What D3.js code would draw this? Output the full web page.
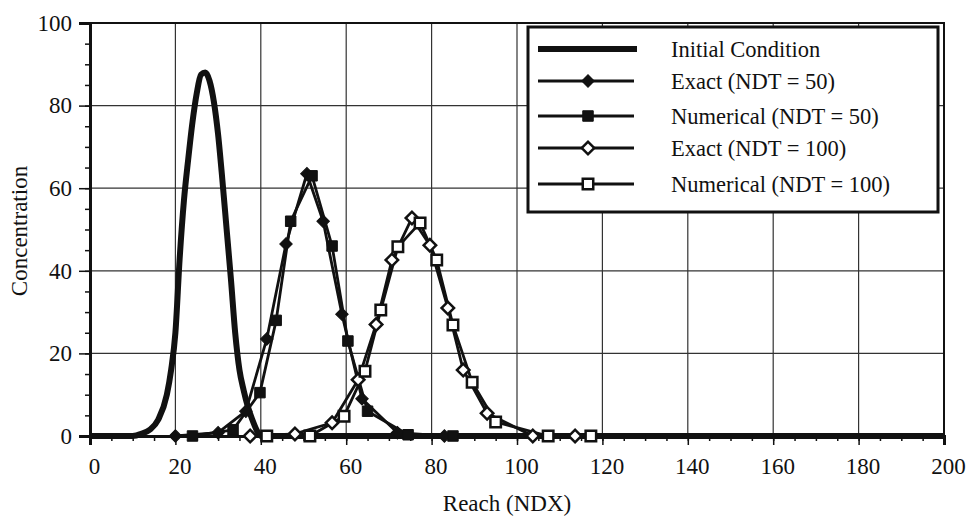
<!DOCTYPE html>
<html>
<head>
<meta charset="utf-8">
<script src="https://cdn.jsdelivr.net/npm/d3@7"></script>
<style>
  body { margin: 0; background: #fff; }
  svg text { font-family: "Liberation Serif", "Times New Roman", serif; fill: #111; }
</style>
</head>
<body>
<div id="chart"></div>
<script>
// values
var initX = [0, 10, 12, 14, 16, 18, 19, 20, 21, 22, 23, 24, 25, 26, 27, 28, 29, 30, 31, 32, 33, 34, 35, 36, 37, 38, 39, 40, 200];
var initY = [0, 0, 0.5, 1.5, 4, 10, 16, 25, 43, 57, 67, 76, 83, 87.5, 88, 86, 81, 73, 62, 50, 38, 25, 16, 11, 7, 4, 1.5, 0, 0];

var exact50X = [20, 30, 36.5, 41.4, 45.9, 50.8, 54.6, 59, 63.7, 72, 83];
var exact50Y = [0, 0.8, 6, 23.5, 46.5, 63.5, 52, 29.5, 9, 0.8, 0];

var num50X = [24, 33.5, 39.8, 43.6, 47, 52, 56.7, 60.4, 65, 74.5, 85];
var num50Y = [0, 1.5, 10.5, 28, 52, 63, 46, 23, 6, 0.3, 0];

var exact100X = [37.5, 48, 56.7, 62.8, 67, 70.7, 75.4, 79.6, 83.8, 87.4, 93, 103.7, 113.6];
var exact100Y = [0, 0.5, 3.2, 13.6, 27, 42.6, 52.8, 46.2, 31, 16, 5.5, 0, 0];

var num100X = [41.4, 51.5, 59.5, 64.4, 68.1, 72.1, 77.3, 81.2, 85, 89.5, 95, 107.3, 117.3];
var num100Y = [0, 0, 4.8, 15.7, 30.5, 45.8, 51.6, 42.6, 26.9, 13, 3.4, 0, 0];

var xTicks = [0, 20, 40, 60, 80, 100, 120, 140, 160, 180, 200];
var yTicks = [0, 20, 40, 60, 80, 100];

var legendNames = ["Initial Condition", "Exact (NDT = 50)", "Numerical (NDT = 50)", "Exact (NDT = 100)", "Numerical (NDT = 100)"];

var width = 973;
var height = 520;
var margin = {left: 90, top: 23, right: 29, bottom: 84};
var w = width - margin.left - margin.right;
var h = height - margin.top - margin.bottom;

var svg = d3.select('#chart').append('svg')
    .attr('width', width)
    .attr('height', height);

var g = svg.append('g').attr('transform', 'translate(' + margin.left + ',' + margin.top + ')');

var x = d3.scaleLinear().domain([0, 200]).range([0, w]);
var y = d3.scaleLinear().domain([0, 100]).range([h, 0]);

// grid
g.append('g')
    .selectAll('line').data(xTicks.slice(1, -1))
    .enter().append('line')
    .attr('x1', function(d){ return x(d); })
    .attr('x2', function(d){ return x(d); })
    .attr('y1', 0).attr('y2', h)
    .attr('stroke', '#333').attr('stroke-width', 1.2);
g.append('g')
    .selectAll('line').data(yTicks.slice(1, -1))
    .enter().append('line')
    .attr('y1', function(d){ return y(d); })
    .attr('y2', function(d){ return y(d); })
    .attr('x1', 0).attr('x2', w)
    .attr('stroke', '#333').attr('stroke-width', 1.2);

// frame
g.append('rect')
    .attr('width', w).attr('height', h)
    .attr('fill', 'none').attr('stroke', '#111').attr('stroke-width', 2);

// axes
var xMinor = g.append('g').attr('transform', 'translate(0,' + h + ')')
    .call(d3.axisBottom(x).tickValues(d3.range(0, 201, 5)).tickSize(5).tickFormat(''));
var xAxis = g.append('g').attr('transform', 'translate(0,' + h + ')')
    .call(d3.axisBottom(x).tickValues(xTicks).tickSize(9).tickPadding(13));
var yMinor = g.append('g')
    .call(d3.axisLeft(y).tickValues(d3.range(0, 101, 5)).tickSize(5).tickFormat(''));
var yAxis = g.append('g')
    .call(d3.axisLeft(y).tickValues(yTicks).tickSize(11).tickPadding(7));

[xMinor, xAxis, yMinor, yAxis].forEach(function(a){
  a.select('.domain').attr('stroke', '#111').attr('stroke-width', 3);
  a.selectAll('.tick line').attr('stroke', '#111').attr('stroke-width', 1.5);
});
xAxis.selectAll('text').attr('font-size', 23).attr('dx', 4);
yAxis.selectAll('text').attr('font-size', 23);

// axis titles
svg.append('text')
    .attr('x', margin.left + w / 2 - 10).attr('y', 511)
    .attr('text-anchor', 'middle').attr('font-size', 23)
    .text('Reach (NDX)');
svg.append('text')
    .attr('transform', 'translate(27,' + (margin.top + 208) + ') rotate(-90)')
    .attr('text-anchor', 'middle').attr('font-size', 23)
    .text('Concentration');

var smooth = d3.line()
    .x(function(d){ return x(d[0]); })
    .y(function(d){ return y(d[1]); })
    .curve(d3.curveMonotoneX);
var straight = d3.line()
    .x(function(d){ return x(d[0]); })
    .y(function(d){ return y(d[1]); });

var pair = function(xs, ys){ return xs.map(function(v, i){ return [v, ys[i]]; }); };

var series = [
  {pts: pair(initX, initY), width: 6, marker: null},
  {pts: pair(exact50X, exact50Y), width: 2.8, marker: 'diamond', fill: '#111'},
  {pts: pair(num50X, num50Y), width: 2.8, marker: 'square', fill: '#111'},
  {pts: pair(exact100X, exact100Y), width: 2.8, marker: 'diamond', fill: '#fff'},
  {pts: pair(num100X, num100Y), width: 2.8, marker: 'square', fill: '#fff'}
];

var diamond = d3.symbol().type(d3.symbolSquare).size(78);
var square = d3.symbol().type(d3.symbolSquare).size(110);

var drawMarker = function(sel, s){
  if (s.marker === 'diamond') {
    sel.append('path').attr('d', diamond()).attr('transform', 'rotate(45)');
  } else {
    sel.append('path').attr('d', square());
  }
  sel.select('path')
    .attr('fill', s.fill)
    .attr('stroke', '#111')
    .attr('stroke-width', s.fill === '#fff' ? 2.5 : 1);
};

series.forEach(function(s){
  g.append('path').datum(s.pts)
    .attr('d', s.marker ? straight : smooth)
    .attr('fill', 'none')
    .attr('stroke', '#111')
    .attr('stroke-width', s.width)
    .attr('stroke-linejoin', 'round');
});

series.forEach(function(s){
  if (!s.marker) return;
  g.append('g').selectAll('g').data(s.pts)
    .enter().append('g')
    .attr('transform', function(d){ return 'translate(' + x(d[0]) + ',' + y(d[1]) + ')'; })
    .each(function(){ drawMarker(d3.select(this), s); });
});

// legend
var legend = svg.append('g').attr('transform', 'translate(528,27)');
legend.append('rect')
    .attr('width', 410).attr('height', 185)
    .attr('fill', '#fff').attr('stroke', '#111').attr('stroke-width', 3);

var rowY = [22, 54, 89, 121, 157];
series.forEach(function(s, i){
  var row = legend.append('g').attr('transform', 'translate(0,' + rowY[i] + ')');
  row.append('line')
    .attr('x1', 10).attr('x2', i === 0 ? 109 : 106)
    .attr('stroke', '#111').attr('stroke-width', s.width);
  if (s.marker) {
    var m = row.append('g').attr('transform', 'translate(60,0)');
    drawMarker(m, s);
  }
  row.append('text')
    .attr('x', 143).attr('y', 8)
    .attr('font-size', 22.5)
    .text(legendNames[i]);
});
</script>
</body>
</html>
